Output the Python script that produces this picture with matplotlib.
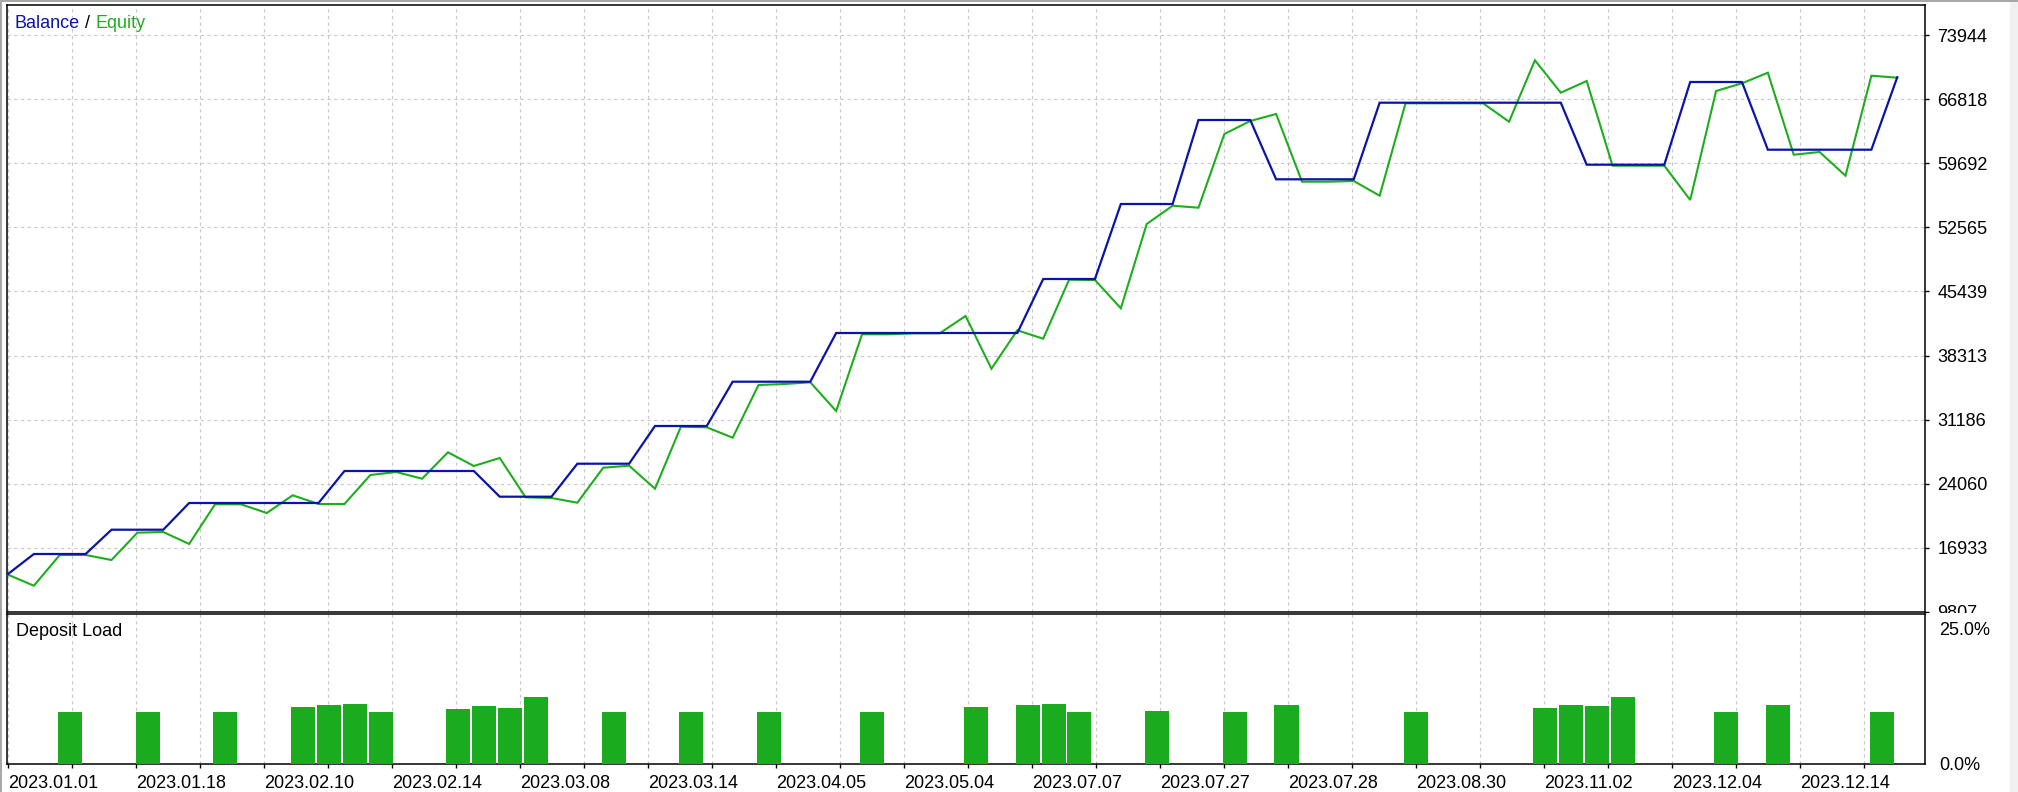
import matplotlib
matplotlib.use('Agg')
import matplotlib.pyplot as plt
import numpy as np
from matplotlib.patches import Rectangle

# ---------------- data ----------------
balance = [14031, 16254, 16254, 16254, 18955, 18955, 18955, 21923, 21923, 21923,
           21923, 21923, 21923, 25480, 25480, 25480, 25480, 25480, 25480, 22623,
           22623, 22623, 26291, 26291, 26291, 30482, 30482, 30482, 35406, 35406,
           35406, 35406, 40819, 40819, 40819, 40819, 40819, 40819, 40819, 40819,
           46822, 46822, 46822, 55158, 55158, 55158, 64495, 64495, 64495, 57904,
           57904, 57904, 57904, 66418, 66418, 66418, 66418, 66418, 66418, 66418,
           66418, 59527, 59527, 59527, 59527, 68719, 68719, 68719, 61194, 61194,
           61194, 61194, 61194, 69242]
equity = [13953, 12730, 16143, 16143, 15587, 18622, 18699, 17366, 21778, 21778,
          20811, 22779, 21812, 21812, 25035, 25369, 24624, 27558, 26036, 26925,
          22557, 22479, 21956, 25847, 26069, 23512, 30404, 30337, 29181, 35039,
          35150, 35339, 32149, 40675, 40675, 40786, 40786, 42709, 36851, 41119,
          40186, 46744, 46710, 43565, 52935, 54969, 54747, 62939, 64384, 65162,
          57637, 57637, 57715, 56081, 66352, 66352, 66352, 66352, 64306, 71131,
          67530, 68830, 59416, 59416, 59416, 55603, 67719, 68575, 69753, 60638,
          60938, 58304, 69420, 69197]
load_trade = [2, 5, 8, 11, 12, 13, 14, 17, 18, 19, 20, 23, 26, 29, 33,
              37, 39, 40, 41, 44, 47, 49, 54, 59, 60, 61, 62, 66, 68, 72]
load_pct = [9.56, 9.56, 9.56, 10.48, 10.85, 11.03, 9.56, 10.11, 10.66, 10.29,
            12.32, 9.56, 9.56, 9.56, 9.56, 10.48, 10.85, 11.03, 9.56, 9.74,
            9.56, 10.85, 9.56, 10.29, 10.85, 10.66, 12.32, 9.56, 10.85, 9.56]
y_ticks = [9807, 16933, 24060, 31186, 38313, 45439, 52565, 59692, 66818, 73944]
pct_ticks = [0.0, 25.0]
pct_labels = ['0.0%', '25.0%']
x_labels = ['2023.01.01', '2023.01.18', '2023.02.10', '2023.02.14', '2023.03.08',
            '2023.03.14', '2023.04.05', '2023.05.04', '2023.07.07', '2023.07.27',
            '2023.07.28', '2023.08.30', '2023.11.02', '2023.12.04', '2023.12.14']

# ---------------- style ----------------
plt.rcParams['font.family'] = ['Liberation Sans', 'DejaVu Sans']
FS = 13
BLUE = '#0A14A8'
GREEN = '#1EAD1E'
BAR = '#1BAB1F'
GRID = '#c8c8c8'

W, H = 2018, 792
fig = plt.figure(figsize=(W / 100, H / 100), dpi=100)
fig.patch.set_facecolor('white')

def fx(px):
    return px / W

L, R = 7, 1925
TOP1, BOT1 = 5, 612
TOP2, BOT2 = 614, 764
ax = fig.add_axes([fx(L), 1 - BOT1 / H, fx(R - L), (BOT1 - TOP1) / H])
ax2 = fig.add_axes([fx(L), 1 - BOT2 / H, fx(R - L), (BOT2 - TOP2) / H])

# x scale: one trade step in pixels
step_px = 25.88
x0 = -(8 - L) / step_px
x1 = (R - 8) / step_px
grid_step = 64 / step_px
grid_pos = np.arange(0, 30) * grid_step

idx = np.arange(len(balance))

for a in (ax, ax2):
    a.set_xlim(x0, x1)
    for s in a.spines.values():
        s.set_linewidth(1.1)
        s.set_color('black')
    a.set_xticks(grid_pos)
    a.grid(True, axis='x', color=GRID, linestyle=(0, (3, 3)), linewidth=0.8)
    a.set_axisbelow(True)

# ---- main panel ----
ax.plot(idx, equity, color=GREEN, lw=1.5, solid_joinstyle='miter', zorder=3)
ax.plot(idx, balance, color=BLUE, lw=1.6, solid_joinstyle='miter', zorder=4)
ymin = y_ticks[0]
per_px = (y_ticks[-1] - y_ticks[0]) / (BOT1 - 35)
ax.set_ylim(ymin, ymin + (BOT1 - TOP1) * per_px)
ax.yaxis.tick_right()
ax.set_yticks(y_ticks)
ax.set_yticklabels([str(v) for v in y_ticks], fontsize=FS)
ax.tick_params(axis='y', direction='out', length=3, width=1, pad=6, colors='black')
ax.tick_params(axis='x', length=0, labelbottom=False)
ax.grid(True, axis='y', color=GRID, linestyle=(0, (3, 3)), linewidth=0.8)

t1 = ax.annotate('Balance', xy=((15 - L) / (R - L), (BOT1 - 23) / (BOT1 - TOP1)),
                 xycoords='axes fraction', color=BLUE, fontsize=FS, va='center', ha='left')
t2 = ax.annotate(' / ', xy=(1, 0.5), xycoords=t1, color='black', fontsize=FS,
                 va='center', ha='left')
t3 = ax.annotate('Equity', xy=(1, 0.5), xycoords=t2, color=GREEN, fontsize=FS,
                 va='center', ha='left')

# ---- deposit load panel ----
ax2.bar(np.array(load_trade) + 0.4, load_pct, width=0.93, color=BAR, linewidth=0, zorder=3)
ax2.set_ylim(0, 25 * (BOT2 - TOP2) / 135.5)
ax2.yaxis.tick_right()
ax2.set_yticks(pct_ticks)
ax2.set_yticklabels(pct_labels, fontsize=FS)
ax2.tick_params(axis='y', length=0, pad=10)
ax2.set_xticks(grid_pos)
ax2.set_xticklabels([x_labels[m // 2] if m % 2 == 0 else '' for m in range(len(grid_pos))],
                    fontsize=FS)
ax2.tick_params(axis='x', direction='out', length=3, width=1, pad=5)
for lbl in ax2.get_xticklabels():
    lbl.set_horizontalalignment('left')
ax2.text((15.6 - L) / (R - L), (BOT2 - 631) / (BOT2 - TOP2), 'Deposit Load',
         transform=ax2.transAxes, fontsize=FS, va='center', ha='left', color='black')

# clip the lowest main label under the lower panel like the original
fig.patches.append(Rectangle((fx(R + 2), 1 - 621.5 / H), fx(2008 - R - 2), 8.7 / H,
                             transform=fig.transFigure, facecolor='white',
                             edgecolor='none', zorder=10))
# window frame hints
fig.patches.append(Rectangle((0, 1 - 2 / H), 1, 2 / H, transform=fig.transFigure,
                             facecolor='#a8a8a8', edgecolor='none', zorder=11))
fig.patches.append(Rectangle((0, 0), 2 / W, 1, transform=fig.transFigure,
                             facecolor='#a8a8a8', edgecolor='none', zorder=11))
fig.patches.append(Rectangle((fx(2010), 0), fx(8), 1 - 2 / H, transform=fig.transFigure,
                             facecolor='#f0f0f0', edgecolor='none', zorder=11))

fig.savefig('out.png', dpi=100, facecolor='white')
